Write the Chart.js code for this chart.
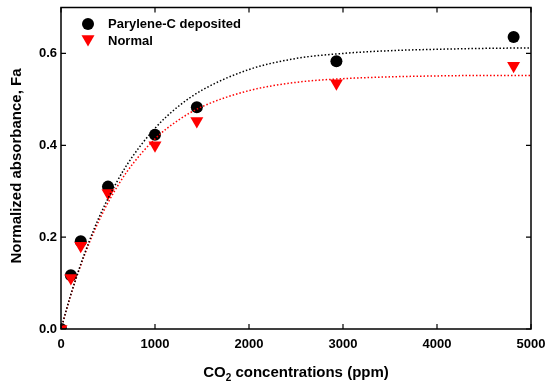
<!DOCTYPE html>
<html>
<head>
<meta charset="utf-8">
<script src="https://cdn.jsdelivr.net/npm/chart.js@4"></script>
<style>
  html, body { margin: 0; padding: 0; background: #fff; }
  #wrap { width: 550px; height: 391px; position: relative; }
</style>
</head>
<body>
<div id="wrap"><canvas id="chart"></canvas></div>
<script>
// Measured CO2 concentrations (ppm)
const concentrations = [0, 105, 210, 500, 1000, 1445, 2930, 4815];
// Normalized absorbance
const paryleneValues = [0, 0.117, 0.191, 0.310, 0.423, 0.483, 0.583, 0.636];
const normalValues = [0, 0.111, 0.181, 0.296, 0.400, 0.453, 0.535, 0.573];

// Dotted fit curves
const fitX = [0, 100, 200, 300, 400, 500, 700, 1000, 1250, 1500, 2000, 2500, 3000, 3500, 4000, 4500, 5000];
const paryleneFit = [0, 0.072, 0.135, 0.191, 0.241, 0.284, 0.357, 0.437, 0.485, 0.520, 0.565, 0.589, 0.600, 0.606, 0.609, 0.611, 0.612];
const normalFit = [0, 0.071, 0.133, 0.187, 0.234, 0.275, 0.342, 0.414, 0.455, 0.484, 0.519, 0.537, 0.545, 0.549, 0.551, 0.552, 0.552];

// Axis ticks
const xTicks = [0, 1000, 2000, 3000, 4000, 5000];
const yTicks = [0, 0.2, 0.4, 0.6];
const yTickLabels = ["0.0", "0.2", "0.4", "0.6"];

const FONT = "'Liberation Sans', Arial, sans-serif";

const toPoints = (xs, ys) => xs.map((x, i) => ({ x: x, y: ys[i] }));

// Frame, inward ticks, labels, titles and legend
const framePlugin = {
  id: "frame",
  afterDraw(chart) {
    const ctx = chart.ctx;
    const area = chart.chartArea;
    const xs = chart.scales.x;
    const ys = chart.scales.y;
    const tick = 5;

    ctx.save();
    ctx.strokeStyle = "#000";
    ctx.lineWidth = 1.5;
    ctx.strokeRect(area.left, area.top, area.right - area.left, area.bottom - area.top);

    ctx.lineWidth = 1.2;
    ctx.beginPath();
    xs.ticks.forEach((t) => {
      const px = xs.getPixelForValue(t.value);
      ctx.moveTo(px, area.bottom);
      ctx.lineTo(px, area.bottom - tick);
      ctx.moveTo(px, area.top);
      ctx.lineTo(px, area.top + tick);
    });
    ys.ticks.forEach((t) => {
      const py = ys.getPixelForValue(t.value);
      ctx.moveTo(area.left, py);
      ctx.lineTo(area.left + tick, py);
      ctx.moveTo(area.right, py);
      ctx.lineTo(area.right - tick, py);
    });
    ctx.stroke();

    // Tick labels
    ctx.fillStyle = "#000";
    ctx.font = "bold 13px " + FONT;
    ctx.textAlign = "center";
    ctx.textBaseline = "middle";
    xs.ticks.forEach((t) => {
      ctx.fillText(String(t.value), xs.getPixelForValue(t.value), 344);
    });
    ctx.textAlign = "right";
    ys.ticks.forEach((t, i) => {
      ctx.fillText(yTickLabels[i], area.left - 4, ys.getPixelForValue(t.value));
    });

    // X title with subscript
    ctx.font = "bold 15px " + FONT;
    ctx.textBaseline = "alphabetic";
    ctx.textAlign = "left";
    const partA = "CO";
    const partB = " concentrations (ppm)";
    const wA = ctx.measureText(partA).width;
    const wB = ctx.measureText(partB).width;
    ctx.font = "bold 10px " + FONT;
    const wSub = ctx.measureText("2").width;
    const total = wA + wSub + wB;
    let tx = (area.left + area.right) / 2 - total / 2;
    const base = 377;
    ctx.font = "bold 15px " + FONT;
    ctx.fillText(partA, tx, base);
    ctx.font = "bold 10px " + FONT;
    ctx.fillText("2", tx + wA, base + 4);
    ctx.font = "bold 15px " + FONT;
    ctx.fillText(partB, tx + wA + wSub, base);

    // Y title
    ctx.save();
    ctx.translate(17, 166);
    ctx.rotate(-Math.PI / 2);
    ctx.textAlign = "center";
    ctx.textBaseline = "middle";
    ctx.fillText("Normalized absorbance, Fa", 0, 0);
    ctx.restore();

    // Legend
    const legendItems = [chart.data.datasets[3], chart.data.datasets[2]];
    const rows = [24, 41];
    ctx.font = "bold 13px " + FONT;
    ctx.textAlign = "left";
    ctx.textBaseline = "middle";
    legendItems.forEach((ds, i) => {
      ctx.fillStyle = ds.backgroundColor;
      ctx.beginPath();
      if (ds.pointStyle === "circle") {
        ctx.arc(88, rows[i], ds.pointRadius, 0, Math.PI * 2);
      } else {
        const r = ds.pointRadius;
        const cy = rows[i] - 2;
        ctx.moveTo(88, cy + r);
        ctx.lineTo(88 - r * Math.sqrt(3) / 2, cy - r / 2);
        ctx.lineTo(88 + r * Math.sqrt(3) / 2, cy - r / 2);
        ctx.closePath();
      }
      ctx.fill();
      ctx.fillStyle = "#000";
      ctx.fillText(ds.label, 108, rows[i] + 0.5);
    });
    ctx.restore();
  },
};

new Chart(document.getElementById("chart"), {
  type: "scatter",
  data: {
    datasets: [
      {
        label: "Parylene-C fit",
        data: toPoints(fitX, paryleneFit),
        showLine: true,
        borderColor: "#000",
        borderWidth: 1.5,
        borderDash: [1.5, 2],
        pointRadius: 0,
        cubicInterpolationMode: "monotone",
        order: 0,
      },
      {
        label: "Normal fit",
        data: toPoints(fitX, normalFit),
        showLine: true,
        borderColor: "#ff0000",
        borderWidth: 1.5,
        borderDash: [1.5, 2],
        pointRadius: 0,
        cubicInterpolationMode: "monotone",
        order: 1,
      },
      {
        label: "Normal",
        data: toPoints(concentrations, normalValues),
        pointStyle: "triangle",
        pointRotation: 180,
        pointRadius: 7.5,
        backgroundColor: "#ff0000",
        borderColor: "#ff0000",
        borderWidth: 0,
        order: 2,
      },
      {
        label: "Parylene-C deposited",
        data: toPoints(concentrations, paryleneValues),
        pointStyle: "circle",
        pointRadius: 6,
        backgroundColor: "#000",
        borderColor: "#000",
        borderWidth: 0,
        order: 3,
      },
    ],
  },
  options: {
    responsive: true,
    maintainAspectRatio: false,
    animation: false,
    layout: { padding: { top: 5, right: 19, left: 0, bottom: 0 } },
    plugins: {
      legend: { display: false },
      tooltip: { enabled: false },
    },
    scales: {
      x: {
        type: "linear",
        min: 0,
        max: 5000,
        afterBuildTicks: (scale) => { scale.ticks = xTicks.map((v) => ({ value: v })); },
        afterFit: (scale) => { scale.height = 62; },
        ticks: { display: false },
        grid: { display: false },
        border: { display: false },
      },
      y: {
        type: "linear",
        min: 0,
        max: 0.7,
        afterBuildTicks: (scale) => { scale.ticks = yTicks.map((v) => ({ value: v })); },
        afterFit: (scale) => { scale.width = 61; },
        ticks: { display: false },
        grid: { display: false },
        border: { display: false },
      },
    },
  },
  plugins: [framePlugin],
});
</script>
</body>
</html>
